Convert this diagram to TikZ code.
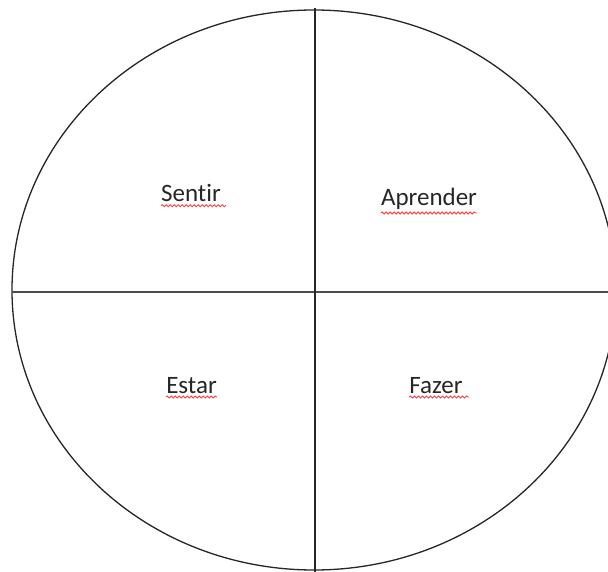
\documentclass[tikz,border=0pt]{standalone}
\usepackage{fontspec}
\setmainfont{Carlito}[Ligatures={NoCommon}]
\usetikzlibrary{decorations.pathmorphing}
\begin{document}
\begin{tikzpicture}[x=1pt,y=-1pt,
  outline/.style={line width=1.3pt,draw=black!85},
  divider/.style={line width=1.4pt,draw=black!70},
  word/.style={anchor=base,inner sep=0pt,font=\fontsize{25}{30}\selectfont,text=black!85},
  spell/.style={draw=red!75,line width=0.9pt,decorate,decoration={snake,segment length=4pt,amplitude=1pt}}]
\useasboundingbox (0,0) rectangle (608,572);
% circle-like ellipse
\draw[outline] (314,290) ellipse [x radius=302, y radius=280];
% dividing lines
\coordinate (top) at (315,8);
\coordinate (bottom) at (315,572);
\coordinate (left) at (12,292);
\coordinate (right) at (608,292);
\draw[divider] (left) -- (right);
\draw[outline] (top) -- (bottom);
% words
\node[word] (sentir) at (191,201.7) {Sentir};
\node[word] (aprender) at (429,206) {Aprender};
\node[word] (estar) at (191.5,393) {Estar};
\node[word] (fazer) at (436,393) {Fazer};
% spell-check underlines
\draw[spell] ([yshift=-4pt]sentir.base west) -- ([yshift=-4pt,xshift=5pt]sentir.base east);
\draw[spell] ([yshift=-7pt]aprender.base west) -- ([yshift=-7pt]aprender.base east);
\draw[spell] ([yshift=-4pt]estar.base west) -- ([yshift=-4pt]estar.base east);
\draw[spell] ([yshift=-4pt]fazer.base west) -- ([yshift=-4pt,xshift=6pt]fazer.base east);
\end{tikzpicture}
\end{document}
